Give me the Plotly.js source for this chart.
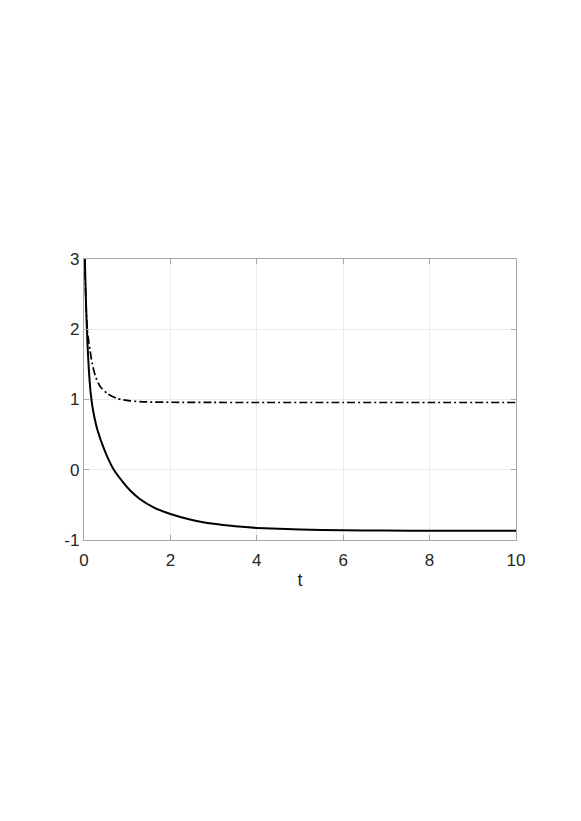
<!DOCTYPE html>
<html>
<head>
<meta charset="utf-8">
<script src="https://cdn.plot.ly/plotly-3.0.1.min.js"></script>
<style>html,body{margin:0;padding:0;background:#fff;}#chart{width:581px;height:821px;}</style>
</head>
<body>
<div id="chart"></div>
<script>
// Solid curve
var tSolid = [0.005, 0.02, 0.05, 0.08, 0.11, 0.15, 0.19, 0.23, 0.31, 0.47, 0.58, 0.69, 0.92, 1.07, 1.30, 1.61, 2.0, 2.5, 3.0, 3.5, 4.0, 5.0, 6.0, 7.0, 8.0, 10.0];
var ySolid = [3.5, 3.0, 2.3, 1.8, 1.45, 1.12, 0.92, 0.78, 0.57, 0.285, 0.13, 0.0, -0.19, -0.295, -0.42, -0.535, -0.63, -0.715, -0.77, -0.805, -0.828, -0.852, -0.862, -0.866, -0.868, -0.87];
// Dash-dot curve
var tDash = [0.005, 0.02, 0.05, 0.077, 0.14, 0.19, 0.27, 0.38, 0.54, 0.77, 1.07, 1.45, 2.2, 3.0, 4.0, 6.0, 8.0, 10.0];
var yDash = [3.5, 2.9, 2.3, 1.98, 1.70, 1.51, 1.32, 1.18, 1.085, 1.014, 0.98, 0.965, 0.96, 0.958, 0.957, 0.957, 0.957, 0.957];
var xTicks = [0, 2, 4, 6, 8, 10];
var yTicks = [-1, 0, 1, 2, 3];

var font = {family: 'Liberation Sans, Arial, Helvetica, sans-serif', size: 17, color: '#262626'};
var traces = [
  {x: tSolid, y: ySolid, type: 'scatter', mode: 'lines', line: {color: '#000', width: 2, shape: 'spline', smoothing: 0.6}, hoverinfo: 'none'},
  {x: tDash, y: yDash, type: 'scatter', mode: 'lines', line: {color: '#000', width: 1.7, dash: '8px,3px,2px,3px', shape: 'spline', smoothing: 0.6}, hoverinfo: 'none'}
];
var axisCommon = {
  showline: true, linecolor: '#a6a6a6', linewidth: 1.2, mirror: 'ticks',
  ticks: 'inside', ticklen: 5, tickcolor: '#a6a6a6', tickwidth: 1,
  showgrid: true, gridcolor: '#ebebeb', gridwidth: 1,
  zeroline: false, tickfont: font, fixedrange: true
};
var layout = {
  width: 581, height: 821,
  margin: {l: 83.5, r: 64.5, t: 259, b: 281, pad: 0},
  paper_bgcolor: '#fff', plot_bgcolor: '#fff',
  showlegend: false,
  xaxis: Object.assign({}, axisCommon, {range: [0, 10], tickvals: xTicks, ticktext: xTicks.map(String), ticklabelstandoff: 4,
    title: {text: 't', font: {family: font.family, size: 18, color: '#262626'}, standoff: 4}}),
  yaxis: Object.assign({}, axisCommon, {range: [-1, 3], tickvals: yTicks, ticktext: yTicks.map(String)})
};
Plotly.newPlot('chart', traces, layout, {staticPlot: true, displayModeBar: false});
</script>
</body>
</html>
